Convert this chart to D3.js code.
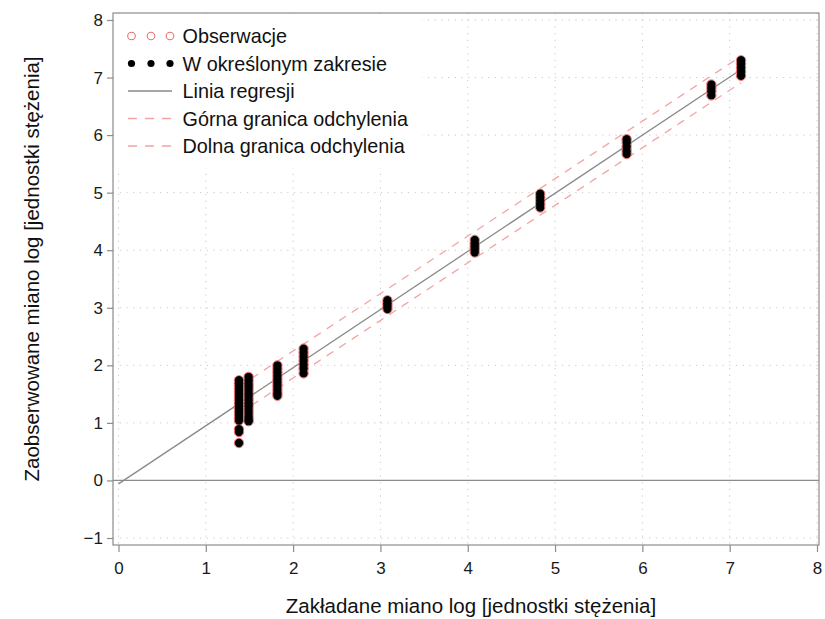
<!DOCTYPE html>
<html>
<head>
<meta charset="utf-8">
<script src="https://cdn.jsdelivr.net/npm/d3@7"></script>
<style>
  html, body { margin: 0; padding: 0; background: #fff; }
  svg { display: block; font-family: "Liberation Sans", Arial, Helvetica, sans-serif; }
</style>
</head>
<body>
<svg id="chart" width="825" height="619"></svg>
<script>
// Expected (nominal) log titre of each dilution level
const expectedLog = [1.38, 1.49, 1.82, 2.12, 3.08, 4.08, 4.83, 5.82, 6.79, 7.13];

// Observed log titres measured at each level
const observedLog = [
  [1.74, 1.69, 1.64, 1.59, 1.54, 1.49, 1.44, 1.39, 1.34, 1.29, 1.24, 1.19, 1.14, 1.09, 1.04, 0.89, 0.84, 0.65],
  [1.80, 1.74, 1.68, 1.63, 1.57, 1.51, 1.46, 1.40, 1.34, 1.29, 1.23, 1.17, 1.11, 1.06, 1.03],
  [2.00, 1.94, 1.88, 1.82, 1.76, 1.70, 1.64, 1.58, 1.52, 1.47],
  [2.29, 2.22, 2.15, 2.08, 2.01, 1.94, 1.86],
  [3.13, 3.08, 3.03, 2.98],
  [4.18, 4.12, 4.07, 4.02, 3.96],
  [4.98, 4.92, 4.86, 4.80, 4.74],
  [5.93, 5.87, 5.80, 5.73, 5.67],
  [6.88, 6.82, 6.76, 6.69],
  [7.30, 7.24, 7.17, 7.10, 7.03]
];

// Regression line end points
const regressionX = [0, 7.13];
const regressionY = [-0.06, 7.14];

// Deviation limits (upper and lower) over the tested range
const limitX = [1.38, 7.13];
const upperLimitY = [1.63, 7.37];
const lowerLimitY = [1.16, 6.91];

const xTicks = [0, 1, 2, 3, 4, 5, 6, 7, 8];
const yTicks = [-1, 0, 1, 2, 3, 4, 5, 6, 7, 8];
const yTickLabels = ["\u22121", "0", "1", "2", "3", "4", "5", "6", "7", "8"];

const legendLabels = [
  "Obserwacje",
  "W określonym zakresie",
  "Linia regresji",
  "Górna granica odchylenia",
  "Dolna granica odchylenia"
];

const xTitle = "Zakładane miano log [jednostki stężenia]";
const yTitle = "Zaobserwowane miano log [jednostki stężenia]";

const svg = d3.select("#chart");

const frame = { left: 113, top: 13, right: 819, bottom: 545 };

const x = d3.scaleLinear().domain([0, 8]).range([118.5, 817]);
const y = d3.scaleLinear().domain([-1, 8]).range([538, 20]);

const gridColor = "#c8c8c8";
const axisColor = "#8c8c8c";
const obsColor = "#f06e6e";
const limitColor = "#f4a3a3";
const regColor = "#8a8a8a";

// Dotted grid
const grid = svg.append("g");
grid.selectAll("line.vx").data(xTicks).join("line")
  .attr("x1", d => x(d)).attr("x2", d => x(d))
  .attr("y1", frame.top).attr("y2", frame.bottom)
  .attr("stroke", gridColor).attr("stroke-width", 1)
  .attr("stroke-dasharray", "1.2,5.5");
grid.selectAll("line.hy").data(yTicks).join("line")
  .attr("x1", frame.left).attr("x2", frame.right)
  .attr("y1", d => y(d)).attr("y2", d => y(d))
  .attr("stroke", gridColor).attr("stroke-width", 1)
  .attr("stroke-dasharray", "1.2,5.5");

// Zero reference line
svg.append("line")
  .attr("x1", frame.left).attr("x2", frame.right)
  .attr("y1", y(0)).attr("y2", y(0))
  .attr("stroke", axisColor).attr("stroke-width", 1.2);

// Legend background (covers the grid)
const legendBox = { x: 114, y: 14, w: 308, h: 154 };
svg.append("rect")
  .attr("x", legendBox.x).attr("y", legendBox.y)
  .attr("width", legendBox.w).attr("height", legendBox.h)
  .attr("fill", "#fff");

// Deviation limits
const line = d3.line().x(d => x(d[0])).y(d => y(d[1]));
[upperLimitY, lowerLimitY].forEach(ys => {
  svg.append("path")
    .attr("d", line(d3.zip(limitX, ys)))
    .attr("fill", "none")
    .attr("stroke", limitColor).attr("stroke-width", 1.3)
    .attr("stroke-dasharray", "8,7");
});

// Regression line
svg.append("path")
  .attr("d", line(d3.zip(regressionX, regressionY)))
  .attr("fill", "none")
  .attr("stroke", regColor).attr("stroke-width", 1.3);

// Observations: red open circle underneath, black dot for in-range points
const points = expectedLog.flatMap((e, i) => observedLog[i].map(o => [e, o]));
const pts = svg.append("g");
pts.selectAll("circle.obs").data(points).join("circle")
  .attr("cx", d => x(d[0])).attr("cy", d => y(d[1]))
  .attr("r", 4.7)
  .attr("fill", "none").attr("stroke", obsColor).attr("stroke-width", 1);
pts.selectAll("circle.inr").data(points).join("circle")
  .attr("cx", d => x(d[0])).attr("cy", d => y(d[1]))
  .attr("r", 4.2)
  .attr("fill", "#000");

// Frame
svg.append("rect")
  .attr("x", frame.left).attr("y", frame.top)
  .attr("width", frame.right - frame.left).attr("height", frame.bottom - frame.top)
  .attr("fill", "none").attr("stroke", axisColor).attr("stroke-width", 1.2);

// Axes
const xAxis = d3.axisBottom(x).tickValues(xTicks).tickSize(7).tickPadding(10).tickFormat(d3.format("d"));
const gx = svg.append("g").attr("transform", `translate(0,${frame.bottom})`).call(xAxis);
const yAxis = d3.axisLeft(y).tickValues(yTicks).tickSize(6).tickPadding(4)
  .tickFormat((d, i) => yTickLabels[i]);
const gy = svg.append("g").attr("transform", `translate(${frame.left},0)`).call(yAxis);
[gx, gy].forEach(g => {
  g.select(".domain").remove();
  g.selectAll(".tick line").attr("stroke", axisColor).attr("stroke-width", 1.2);
  g.selectAll(".tick text")
    .attr("fill", "#1a1a1a")
    .style("font-size", "17px")
    .style("font-family", "'Liberation Sans', Arial, sans-serif");
});

// Axis titles
svg.append("text")
  .attr("x", 471).attr("y", 613)
  .attr("text-anchor", "middle")
  .style("font-size", "20.5px").attr("fill", "#111")
  .text(xTitle);
svg.append("text")
  .attr("transform", "translate(39,269) rotate(-90)")
  .attr("text-anchor", "middle")
  .style("font-size", "20.5px").attr("fill", "#111")
  .text(yTitle);

// Legend
const rowY = [36, 63.5, 91, 118.5, 146];
const markerX = [131.5, 151, 170];
const legend = svg.append("g");

legend.selectAll("circle.lo").data(markerX).join("circle")
  .attr("cx", d => d).attr("cy", rowY[0]).attr("r", 3.8)
  .attr("fill", "none").attr("stroke", obsColor).attr("stroke-width", 1.1);
legend.selectAll("circle.li").data(markerX).join("circle")
  .attr("cx", d => d).attr("cy", rowY[1]).attr("r", 3.6)
  .attr("fill", "#000");
legend.append("line")
  .attr("x1", 128).attr("x2", 172).attr("y1", rowY[2]).attr("y2", rowY[2])
  .attr("stroke", regColor).attr("stroke-width", 1.3);
[rowY[3], rowY[4]].forEach(ry => {
  legend.append("line")
    .attr("x1", 128).attr("x2", 173).attr("y1", ry).attr("y2", ry)
    .attr("stroke", limitColor).attr("stroke-width", 1.3)
    .attr("stroke-dasharray", "9,8");
});
legend.selectAll("text").data(legendLabels).join("text")
  .attr("x", 182.5).attr("y", (d, i) => rowY[i])
  .attr("dy", "0.36em")
  .style("font-size", "19.8px").attr("fill", "#111")
  .text(d => d);
</script>
</body>
</html>
